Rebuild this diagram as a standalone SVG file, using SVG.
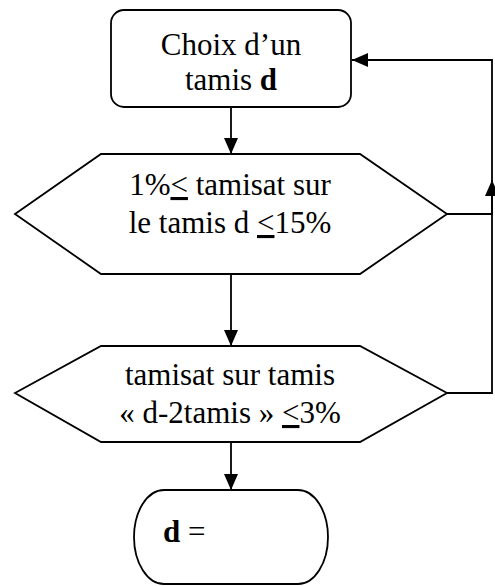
<svg xmlns="http://www.w3.org/2000/svg" width="495" height="586" viewBox="0 0 495 586">
<defs>
<style>
.shape{fill:#fff;stroke:#000;stroke-width:1.8}
.line{fill:none;stroke:#000;stroke-width:1.8}
.t{font-size:31px;fill:#000;text-anchor:middle}
.b{font-weight:bold}
.u{text-decoration:underline}
</style>
<marker id="ah" viewBox="0 0 16 14" refX="16" refY="7" markerWidth="16" markerHeight="14" markerUnits="userSpaceOnUse" orient="auto">
<path d="M0,0 L16,7 L0,14 Z" fill="#000"/>
</marker>
</defs>
<rect width="495" height="586" fill="#fff"/>
<g id="connectors">
<line class="line" x1="231" y1="107" x2="231" y2="154" marker-end="url(#ah)"/>
<line class="line" x1="231" y1="274" x2="231" y2="346" marker-end="url(#ah)"/>
<line class="line" x1="231" y1="442" x2="231" y2="490" marker-end="url(#ah)"/>
<polyline class="line" points="447,393 492,393 492,60 352,60" marker-end="url(#ah)"/>
<polyline class="line" points="447,214 492,214 492,180" marker-end="url(#ah)"/>
</g>
<g font-family="Liberation Serif, DejaVu Serif, serif">
<g id="start">
<rect class="shape" x="111" y="10" width="240" height="97" rx="13" ry="13"/>
<text class="t" x="231" y="55">Choix d’un</text>
<text class="t" x="231" y="90">tamis <tspan class="b">d</tspan></text>
</g>
<g id="decision1">
<polygon class="shape" points="15,214 101,154 360,154 447,214 360,274 101,274"/>
<text class="t" x="230" y="195">1%<tspan class="u">&lt;</tspan> tamisat sur</text>
<text class="t" x="230" y="233">le tamis d <tspan class="u">&lt;</tspan>15%</text>
</g>
<g id="decision2">
<polygon class="shape" points="15,393 101,346 360,346 447,393 360,442 101,442"/>
<text class="t" x="230" y="385">tamisat sur tamis</text>
<text class="t" x="230" y="423">« d-2tamis » <tspan class="u">&lt;</tspan>3%</text>
</g>
<g id="end">
<rect class="shape" x="134" y="490" width="194" height="94" rx="30" ry="47"/>
<text class="t" x="163" y="542" style="text-anchor:start"><tspan class="b">d</tspan> =</text>
</g>
</g>
</svg>
